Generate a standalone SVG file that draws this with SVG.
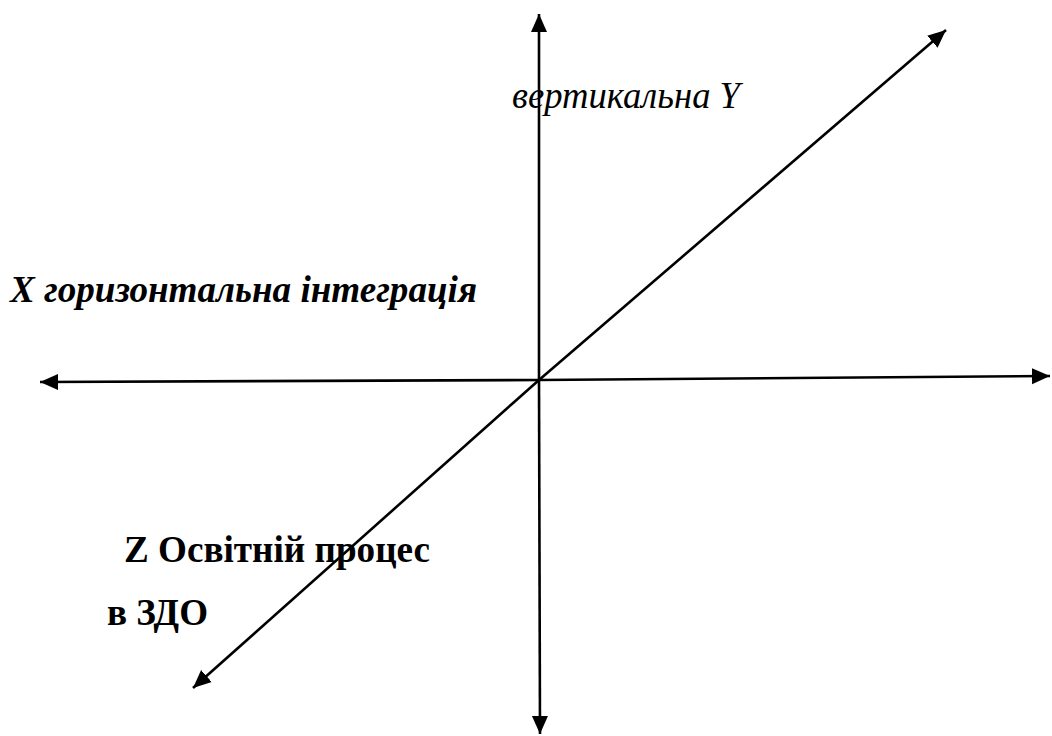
<svg xmlns="http://www.w3.org/2000/svg" width="1052" height="736" viewBox="0 0 1052 736">
<style>
.t{font-family:"Liberation Serif","Times New Roman",serif;fill:#000}
</style>
<defs>
<marker id="ah" markerUnits="userSpaceOnUse" markerWidth="20" markerHeight="18" refX="18" refY="8" orient="auto" viewBox="0 0 20 16">
<path d="M0,0 L18,8 L0,16 Z" fill="#000"/>
</marker>
</defs>
<rect width="1052" height="736" fill="#fff"/>
<g id="connectors" stroke="#000" stroke-width="2.6" fill="none" marker-end="url(#ah)">
<line x1="539" y1="380" x2="539" y2="14"/>
<line x1="539" y1="380" x2="540" y2="734"/>
<line x1="539" y1="380" x2="40" y2="382"/>
<line x1="539" y1="380" x2="1050" y2="376"/>
<line x1="539" y1="380" x2="946" y2="30"/>
<line x1="539" y1="380" x2="193" y2="688"/>
</g>
<g id="label-y"><text class="t" x="512" y="108" font-size="37" font-style="italic" textLength="228" lengthAdjust="spacingAndGlyphs">вертикальна Y</text></g>
<g id="label-x"><text class="t" x="10" y="302" font-size="37" font-style="italic" font-weight="bold" textLength="467" lengthAdjust="spacingAndGlyphs">X горизонтальна інтеграція</text></g>
<g id="label-z"><text class="t" x="124" y="562" font-size="38" font-weight="bold" textLength="306" lengthAdjust="spacingAndGlyphs">Z Освітній процес</text>
<text class="t" x="107" y="625" font-size="38" font-weight="bold" textLength="101" lengthAdjust="spacingAndGlyphs">в ЗДО</text></g>
</svg>
